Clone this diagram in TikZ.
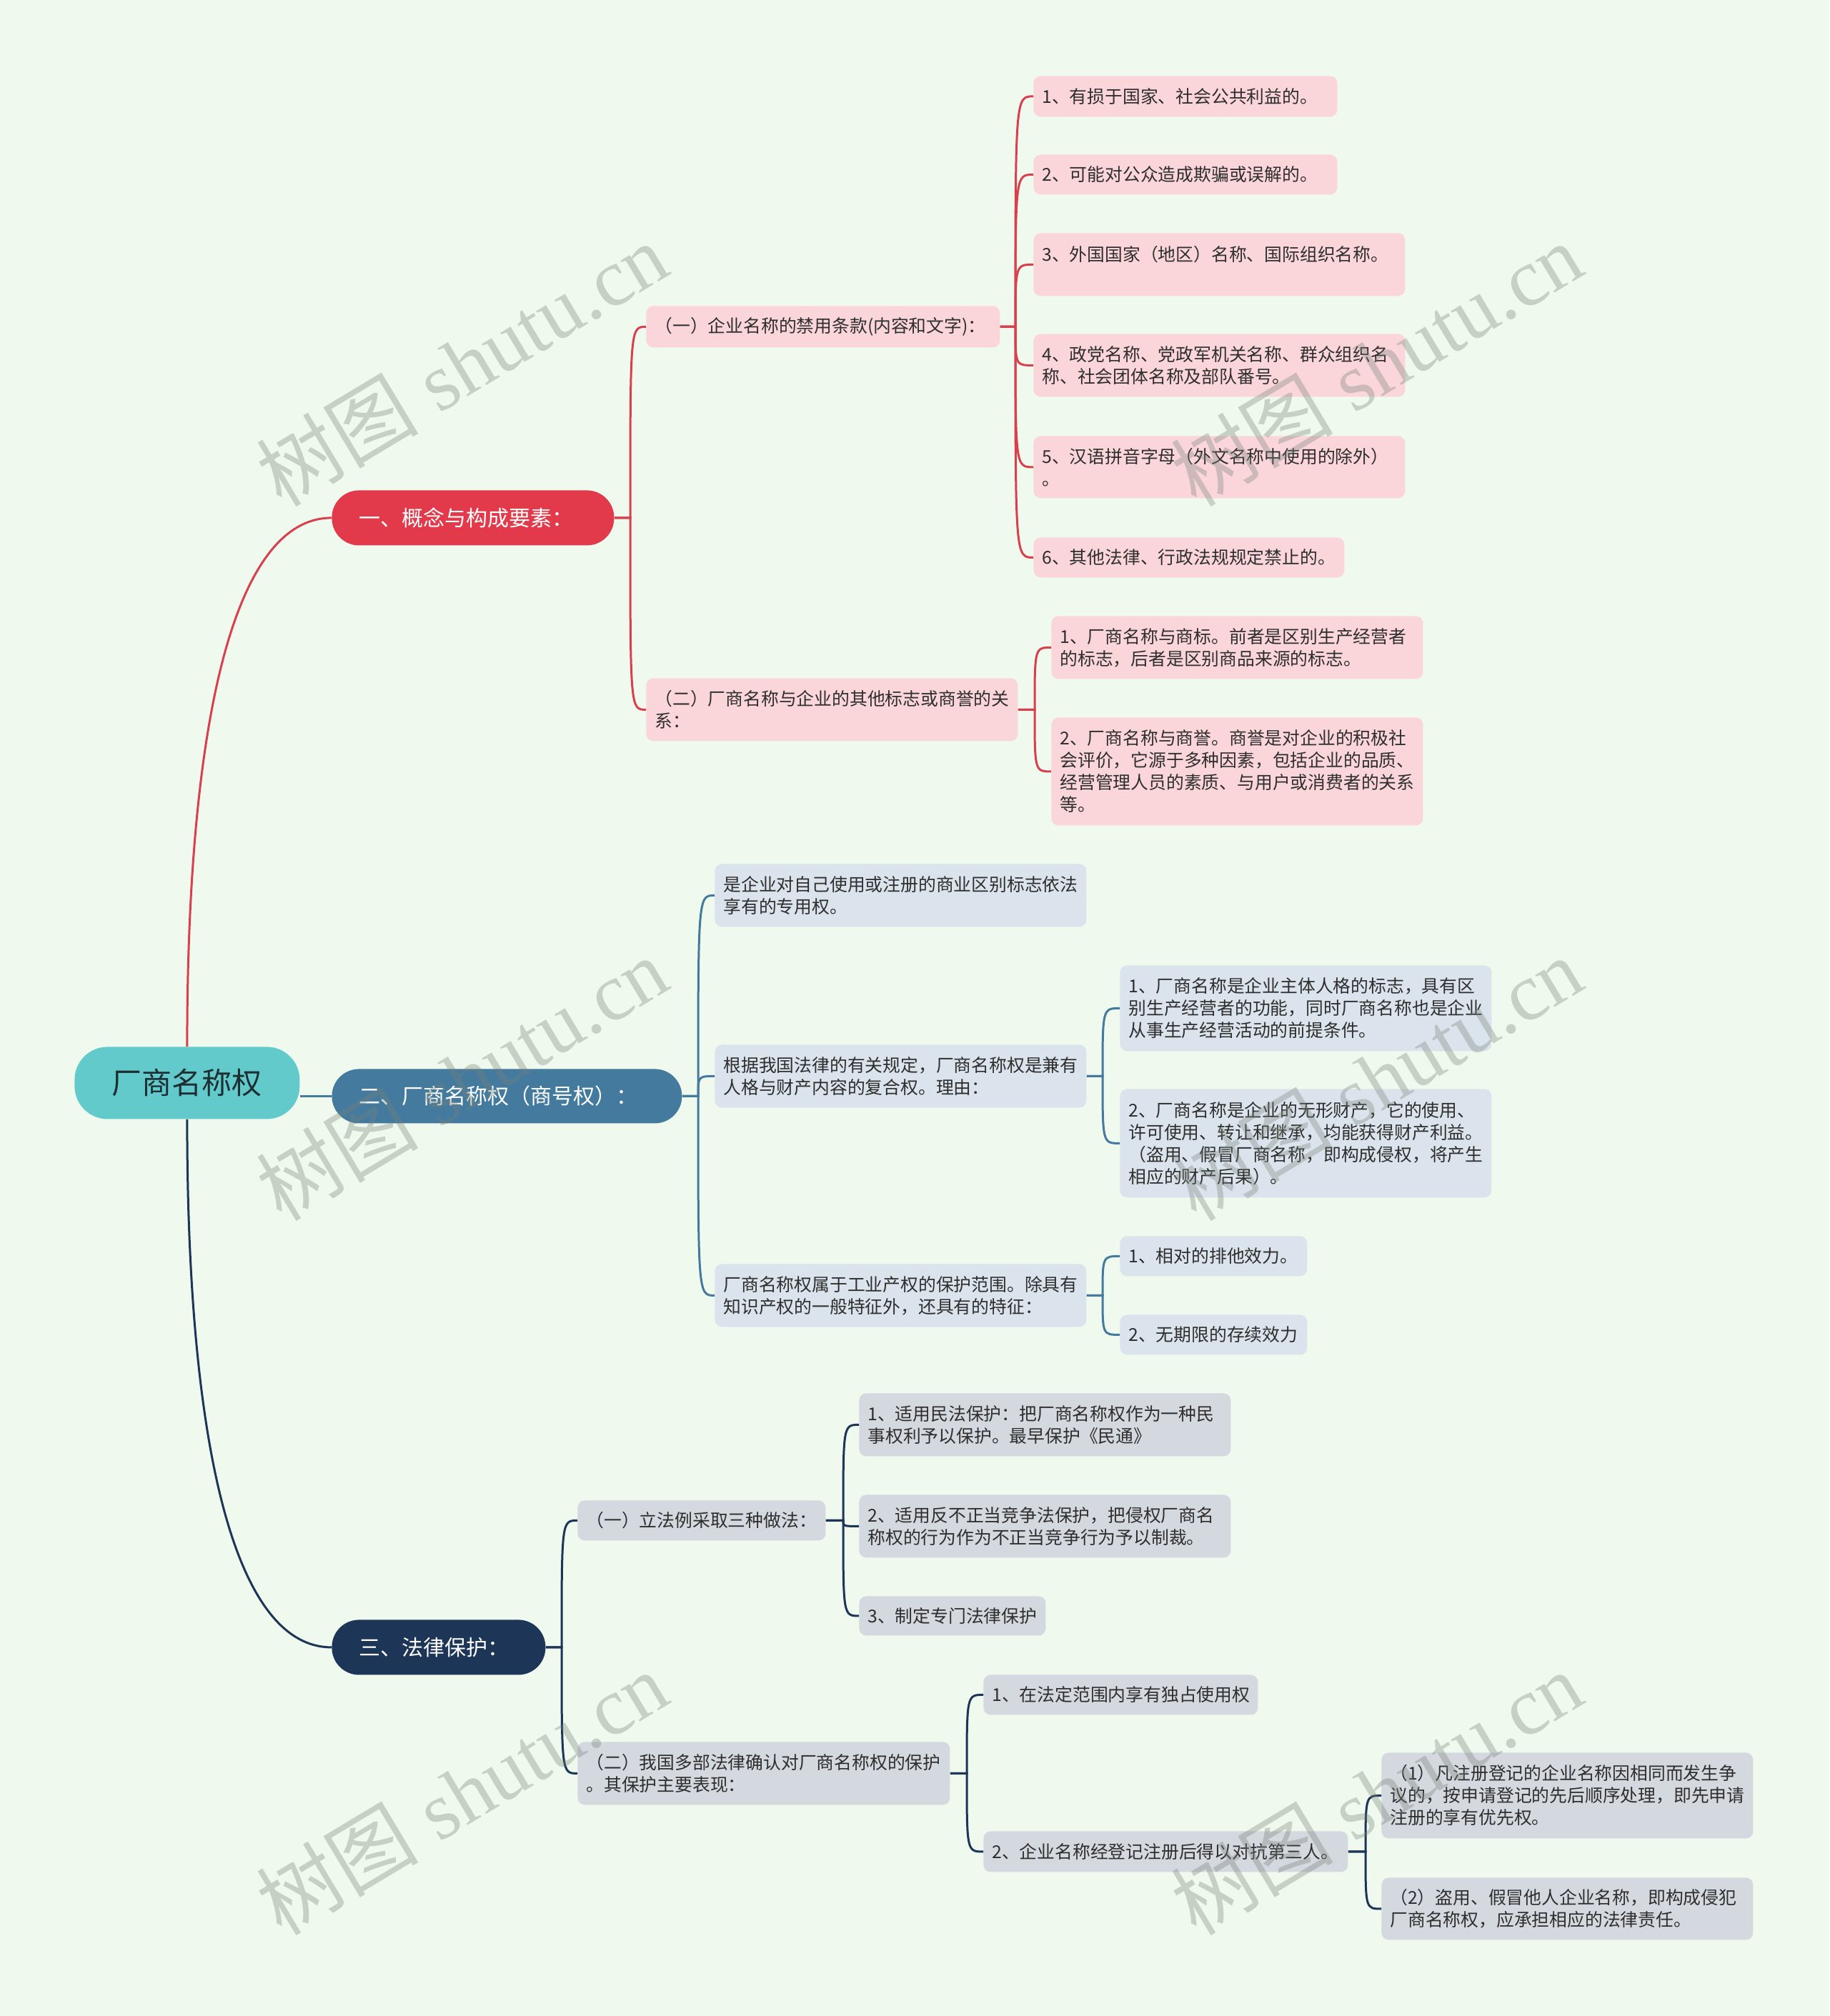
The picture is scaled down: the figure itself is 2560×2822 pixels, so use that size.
\documentclass[tikz,border=0pt]{standalone}
\usepackage{fontspec}
\newfontfamily\cjk{Noto Sans CJK SC}
\newfontfamily\wmserif{Liberation Serif}
\hfuzz=80pt \hbadness=10000
\definecolor{bg}{HTML}{EFF9EE}
\definecolor{rootc}{HTML}{63CACB}
\definecolor{roott}{HTML}{1E2F33}
\definecolor{redc}{HTML}{E23A4A}
\definecolor{redl}{HTML}{D8404D}
\definecolor{pinkc}{HTML}{FAD6DB}
\definecolor{bluec}{HTML}{437A9E}
\definecolor{lbluec}{HTML}{DBE4EC}
\definecolor{navyc}{HTML}{1D3557}
\definecolor{grayc}{HTML}{D4D8DF}
\definecolor{txtc}{HTML}{2E2E2E}
\definecolor{wmc}{HTML}{788278}
\newcommand\mkbox[8]{%
  \pgfmathsetmacro\mkW{(#5-#3)*0.5}%
  \pgfmathsetmacro\mkH{(#6-#4)*0.5}%
  \pgfmathsetmacro\mkT{(#5-#3)*0.5-2*#7}%
  \node[#1, inner xsep=#7pt, inner ysep=0pt, minimum width=\mkW pt, minimum height=\mkH pt, text width=\mkT pt, anchor=north west] (#2) at (#3,#4) {#8};}
\newcommand\lnk[4]{\draw[#1] (#2.east) -- (#2.east -| #4) .. controls (#4 |- #3.west) and (#4 |- #3.west) .. (#3.west);}
\tikzset{
  boxst/.style={rectangle, rounded corners=5pt, font=\cjk\fontsize{12.4pt}{15.5pt}\selectfont, text=txtc, align=left},
  pk/.style={boxst, fill=pinkc},
  lb/.style={boxst, fill=lbluec},
  gy/.style={boxst, fill=grayc},
  lone/.style={rectangle, rounded corners=19pt, font=\cjk\fontsize{15pt}{18pt}\selectfont, text=white, align=left},
  rootst/.style={rectangle, rounded corners=23pt, fill=rootc, font=\cjk\fontsize{21pt}{25pt}\selectfont, text=roott, align=center},
  lr/.style={draw=redl, line width=1.5pt},
  lbl/.style={draw=bluec, line width=1.5pt},
  lnv/.style={draw=navyc, line width=1.5pt},
  wm/.style={font=\wmserif\fontsize{57pt}{57pt}\selectfont, text=wmc, text opacity=0.34, rotate=31, inner sep=0pt}
}
\begin{document}
\begin{tikzpicture}[x=0.5pt,y=-0.5pt]
\useasboundingbox (0,0) rectangle (2560,2822);
\fill[bg] (0,0) rectangle (2560,2822);

% junction x positions
\coordinate (Jn1) at (882,0);
\coordinate (Ja1) at (1421,0);
\coordinate (Jb1) at (1448,0);
\coordinate (Jn2) at (977,0);
\coordinate (Je2) at (1543,0);
\coordinate (Je3) at (1543,0);
\coordinate (Jn3) at (786,0);
\coordinate (Jh1) at (1180,0);
\coordinate (Jh2) at (1353,0);
\coordinate (Jj2) at (1911,0);

% root and level 1
\mkbox{rootst}{root}{104}{1465}{419}{1566}{20}{厂商名称权}
\mkbox{lone, fill=redc}{n1}{464}{686}{859}{763}{19}{一、概念与构成要素：}
\mkbox{lone, fill=bluec}{n2}{464}{1496}{954}{1572}{19}{二、厂商名称权（商号权）：}
\mkbox{lone, fill=navyc}{n3}{464}{2267}{763}{2344}{19}{三、法律保护：}

% branch 1
\mkbox{pk}{a1}{904}{428}{1399}{486}{6}{（一）企业名称的禁用条款(内容和文字)：}
\mkbox{pk}{b1}{904}{949}{1424}{1037}{6}{（二）厂商名称与企业的其他标志或商誉的关\\系：}
\mkbox{pk}{c1}{1446}{106}{1871}{163}{6}{1、有损于国家、社会公共利益的。}
\mkbox{pk}{c2}{1446}{216}{1871}{272}{6}{2、可能对公众造成欺骗或误解的。}
\mkbox{pk}{c3}{1446}{326}{1966}{414}{6}{3、外国国家（地区）名称、国际组织名称。\\\mbox{}}
\mkbox{pk}{c4}{1446}{467}{1966}{555}{6}{4、政党名称、党政军机关名称、群众组织名\\称、社会团体名称及部队番号。}
\mkbox{pk}{c5}{1446}{610}{1966}{697}{6}{5、汉语拼音字母（外文名称中使用的除外）\\。}
\mkbox{pk}{c6}{1446}{752}{1881}{808}{6}{6、其他法律、行政法规规定禁止的。}
\mkbox{pk}{d1}{1471}{862}{1991}{950}{6}{1、厂商名称与商标。前者是区别生产经营者\\的标志，后者是区别商品来源的标志。}
\mkbox{pk}{d2}{1471}{1004}{1991}{1155}{6}{2、厂商名称与商誉。商誉是对企业的积极社\\会评价，它源于多种因素，包括企业的品质、\\经营管理人员的素质、与用户或消费者的关系\\等。}

% branch 2
\mkbox{lb}{e1}{1000}{1209}{1520}{1297}{6}{是企业对自己使用或注册的商业区别标志依法\\享有的专用权。}
\mkbox{lb}{e2}{1000}{1462}{1520}{1550}{6}{根据我国法律的有关规定，厂商名称权是兼有\\人格与财产内容的复合权。理由：}
\mkbox{lb}{e3}{1000}{1769}{1520}{1857}{6}{厂商名称权属于工业产权的保护范围。除具有\\知识产权的一般特征外，还具有的特征：}
\mkbox{lb}{f1}{1567}{1351}{2087}{1471}{6}{1、厂商名称是企业主体人格的标志，具有区\\别生产经营者的功能，同时厂商名称也是企业\\从事生产经营活动的前提条件。}
\mkbox{lb}{f2}{1567}{1524}{2087}{1676}{6}{2、厂商名称是企业的无形财产，它的使用、\\许可使用、转让和继承，均能获得财产利益。\\（盗用、假冒厂商名称，即构成侵权，将产生\\相应的财产后果）。}
\mkbox{lb}{g1}{1567}{1730}{1829}{1786}{6}{1、相对的排他效力。}
\mkbox{lb}{g2}{1567}{1840}{1829}{1896}{6}{2、无期限的存续效力}

% branch 3
\mkbox{gy}{h1}{808}{2100}{1155}{2156}{6}{（一）立法例采取三种做法：}
\mkbox{gy}{h2}{808}{2438}{1329}{2526}{6}{（二）我国多部法律确认对厂商名称权的保护\\。其保护主要表现：}
\mkbox{gy}{i1}{1202}{1950}{1722}{2038}{6}{1、适用民法保护：把厂商名称权作为一种民\\事权利予以保护。最早保护《民通》}
\mkbox{gy}{i2}{1202}{2092}{1722}{2180}{6}{2、适用反不正当竞争法保护，把侵权厂商名\\称权的行为作为不正当竞争行为予以制裁。}
\mkbox{gy}{i3}{1202}{2234}{1463}{2289}{6}{3、制定专门法律保护}
\mkbox{gy}{j1}{1376}{2344}{1760}{2400}{6}{1、在法定范围内享有独占使用权}
\mkbox{gy}{j2}{1376}{2563}{1886}{2620}{6}{2、企业名称经登记注册后得以对抗第三人。}
\mkbox{gy}{k1}{1933}{2453}{2453}{2573}{6}{（1）凡注册登记的企业名称因相同而发生争\\议的，按申请登记的先后顺序处理，即先申请\\注册的享有优先权。}
\mkbox{gy}{k2}{1933}{2628}{2453}{2715}{6}{（2）盗用、假冒他人企业名称，即构成侵犯\\厂商名称权，应承担相应的法律责任。}

% level 1 connectors
\draw[lr] (root.north) .. controls +(0,-465) and +(-134,0) .. (n1.west);
\draw[lbl] (n2.west) -- (n2.west -| root.east);
\draw[lnv] (root.south) .. controls +(0,465) and +(-134,0) .. (n3.west);

% branch connectors
\lnk{lr}{n1}{a1}{Jn1}
\lnk{lr}{n1}{b1}{Jn1}
\foreach \c in {c1,c2,c3,c4,c5,c6} {\lnk{lr}{a1}{\c}{Ja1}}
\lnk{lr}{b1}{d1}{Jb1}
\lnk{lr}{b1}{d2}{Jb1}
\foreach \c in {e1,e2,e3} {\lnk{lbl}{n2}{\c}{Jn2}}
\lnk{lbl}{e2}{f1}{Je2}
\lnk{lbl}{e2}{f2}{Je2}
\lnk{lbl}{e3}{g1}{Je3}
\lnk{lbl}{e3}{g2}{Je3}
\lnk{lnv}{n3}{h1}{Jn3}
\lnk{lnv}{n3}{h2}{Jn3}
\foreach \c in {i1,i2,i3} {\lnk{lnv}{h1}{\c}{Jh1}}
\lnk{lnv}{h2}{j1}{Jh2}
\lnk{lnv}{h2}{j2}{Jh2}
\lnk{lnv}{j2}{k1}{Jj2}
\lnk{lnv}{j2}{k2}{Jj2}

% watermarks
\foreach \wx/\wy [count=\i] in {646/510,1926/510,646/1510,1926/1510,646/2510,1926/2510}
  {\node[wm] (wm\i) at (\wx,\wy) {{\cjk 树图} shutu.cn};}
\end{tikzpicture}
\end{document}
